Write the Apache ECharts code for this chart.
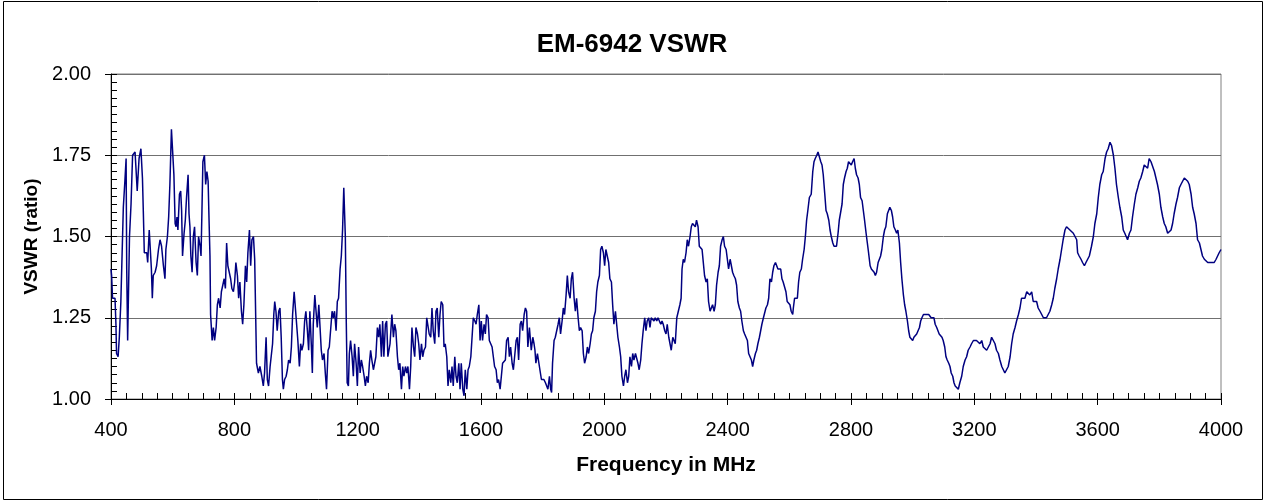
<!DOCTYPE html>
<html>
<head>
<meta charset="utf-8">
<title>EM-6942 VSWR</title>
<script src="https://cdn.jsdelivr.net/npm/echarts@6/dist/echarts.min.js"></script>
<style>
  html, body { margin: 0; padding: 0; background: #fff; }
  #chart { width: 1264px; height: 502px; }
</style>
</head>
<body>
<div id="chart"></div>
<script>
// frequency (MHz) / VSWR readings, split by band so the pairs are easy to check
const freq1 = [400,402,405,413,416,418,423,427,432,435,440,445,449,451,454,460,465,470,478,481,485,491,497,502,505,508,516,519,524,529,531,534,537,543,548,554,559,564,570,575,578,583,587,591,596,601,604,608,611,614,617,622,626,629,632,637,641,645,650,653,656,659,663,667,671,676,680,684,689,692,695,698,703,707,711,715,718,721,723,728,732,736,741,745,749,754,758,762,767,771,775,779,784,788,792,797,801,805,810,814,818,823,827,831,836,840,844,849,853,857,862,866];
const vswr1 = [1.40,1.38,1.31,1.31,1.23,1.14,1.13,1.19,1.30,1.41,1.59,1.67,1.74,1.40,1.18,1.50,1.60,1.75,1.76,1.71,1.64,1.74,1.77,1.68,1.57,1.45,1.45,1.42,1.52,1.52,1.40,1.31,1.38,1.39,1.41,1.46,1.49,1.47,1.41,1.37,1.46,1.50,1.56,1.66,1.83,1.83,1.69,1.54,1.53,1.56,1.52,1.63,1.64,1.58,1.44,1.51,1.55,1.62,1.69,1.57,1.53,1.44,1.39,1.50,1.53,1.42,1.38,1.50,1.47,1.44,1.58,1.73,1.75,1.66,1.70,1.67,1.55,1.44,1.26,1.18,1.22,1.18,1.22,1.29,1.31,1.28,1.33,1.33,1.37,1.34,1.48,1.41,1.41,1.37,1.34,1.33,1.36,1.42,1.38,1.31,1.36,1.27,1.23,1.29,1.41,1.36,1.45,1.52,1.41,1.49,1.50,1.43];

const freq2 = [872,878,883,889,894,898,903,907,911,916,920,924,928,931,935,939,944,948,952,956,959,963,968,972,976,981,985,989,994,998,1002,1006,1011,1015,1019,1024,1028,1032,1037,1041,1045,1050,1053,1056,1061,1065,1069,1074,1078,1082,1086,1091,1095,1099,1104,1108,1112,1117,1121,1125,1130,1134,1138,1143,1147,1151,1155,1158,1160,1163,1166,1170,1173,1177,1182,1186,1190,1195,1199,1203,1208,1212,1216,1221,1225,1229,1234,1238,1242,1246,1251,1255,1259,1264,1268,1272,1277,1281,1285,1290,1294,1298];
const vswr2 = [1.11,1.08,1.10,1.07,1.04,1.08,1.19,1.06,1.04,1.10,1.10,1.17,1.26,1.30,1.27,1.21,1.27,1.28,1.19,1.06,1.03,1.06,1.07,1.09,1.12,1.11,1.16,1.26,1.33,1.33,1.23,1.18,1.10,1.17,1.15,1.17,1.24,1.27,1.21,1.15,1.27,1.16,1.08,1.23,1.32,1.27,1.22,1.29,1.29,1.15,1.12,1.14,1.08,1.03,1.15,1.16,1.16,1.27,1.25,1.27,1.21,1.30,1.31,1.40,1.44,1.52,1.65,1.65,1.50,1.24,1.05,1.04,1.14,1.18,1.13,1.07,1.17,1.11,1.04,1.16,1.08,1.12,1.10,1.07,1.04,1.07,1.05,1.11,1.15,1.12,1.09,1.09,1.13,1.22,1.19,1.23,1.13,1.24,1.13,1.23,1.24,1.13];

const freq3 = [1305,1311,1316,1320,1324,1329,1333,1337,1342,1346,1350,1355,1359,1363,1368,1372,1376,1381,1385,1389,1394,1398,1402,1407,1411,1415,1420,1424,1428,1432,1437,1441,1445,1450,1454,1458,1463,1467,1471,1476,1480,1484,1489,1493,1497,1502,1506,1510,1515,1519,1523,1528,1532,1536,1541,1545,1549,1554,1558,1562,1567,1571,1575,1580,1584,1588,1593,1597,1601,1605,1610,1614,1618,1623,1627,1631,1636,1640,1644,1649,1653,1657,1662,1666,1670,1675,1679,1683,1688,1692,1696,1701,1705,1709,1714,1718,1722,1727,1731,1735,1740,1744,1748,1752,1757];
const vswr3 = [1.17,1.26,1.19,1.23,1.21,1.13,1.09,1.11,1.03,1.10,1.07,1.10,1.08,1.10,1.03,1.10,1.22,1.16,1.13,1.22,1.20,1.17,1.12,1.17,1.13,1.15,1.16,1.25,1.25,1.20,1.19,1.28,1.21,1.17,1.27,1.28,1.19,1.26,1.30,1.29,1.16,1.17,1.13,1.04,1.09,1.05,1.10,1.04,1.13,1.07,1.05,1.11,1.03,1.11,1.03,1.01,1.09,1.03,1.09,1.10,1.13,1.19,1.25,1.24,1.23,1.26,1.29,1.18,1.24,1.18,1.23,1.20,1.26,1.25,1.18,1.18,1.16,1.13,1.10,1.09,1.05,1.06,1.03,1.07,1.11,1.11,1.12,1.18,1.19,1.13,1.16,1.11,1.09,1.13,1.18,1.19,1.12,1.23,1.24,1.21,1.26,1.28,1.27,1.16,1.22];

const freq4 = [1763,1768,1772,1775,1778,1783,1787,1791,1796,1800,1804,1809,1813,1817,1822,1826,1829,1832,1837,1841,1845,1850,1854,1858,1863,1867,1871,1876,1880,1884,1889,1893,1897,1902,1906,1910,1915,1919,1923,1928,1932,1936,1941,1945,1949,1954,1958,1962,1966,1971,1975,1979,1984,1988,1992,1997,2001,2005,2010,2014,2018,2023,2027,2031,2036,2040,2044,2049,2053,2057,2062,2066,2070,2075,2079,2083,2088,2092,2096,2101,2105,2109,2113,2118,2122,2126,2131,2135,2139,2144,2148,2152,2157,2161,2165,2170,2174,2178,2183,2187,2191,2196,2200,2204,2209,2213,2217,2222,2226,2230];
const vswr4 = [1.15,1.19,1.17,1.15,1.11,1.14,1.14,1.09,1.06,1.06,1.06,1.05,1.04,1.03,1.07,1.03,1.02,1.11,1.18,1.19,1.19,1.23,1.25,1.20,1.24,1.28,1.26,1.32,1.38,1.33,1.31,1.37,1.39,1.31,1.27,1.31,1.25,1.21,1.22,1.21,1.14,1.11,1.13,1.16,1.14,1.17,1.20,1.21,1.25,1.27,1.33,1.36,1.38,1.46,1.47,1.45,1.41,1.46,1.46,1.42,1.37,1.36,1.29,1.23,1.27,1.27,1.19,1.16,1.13,1.07,1.04,1.07,1.09,1.05,1.07,1.13,1.10,1.14,1.12,1.14,1.14,1.11,1.09,1.12,1.17,1.21,1.25,1.21,1.24,1.25,1.22,1.25,1.25,1.24,1.25,1.24,1.25,1.25,1.23,1.24,1.23,1.21,1.20,1.23,1.19,1.17,1.15,1.19,1.19,1.17];

const freq5 = [2235,2240,2245,2249,2252,2256,2260,2265,2269,2273,2278,2282,2286,2291,2295,2299,2304,2308,2312,2317,2321,2325,2330,2334,2338,2343,2347,2351,2356,2360,2364,2369,2373,2377,2382,2386,2390,2395,2399,2403,2408,2412,2416,2420,2425,2429,2433,2438,2442,2446,2451,2455,2459,2464,2468,2472,2477,2481,2485,2490,2494,2498,2503,2507,2511,2516,2520,2524,2529,2533,2537,2542,2546,2550,2555,2559,2563,2567,2572,2576,2580,2585,2589,2593,2598,2602,2606,2611,2613,2617,2621,2626,2630,2634,2639,2643,2648,2652,2656,2660,2665];
const vswr5 = [1.25,1.27,1.29,1.31,1.40,1.43,1.42,1.45,1.49,1.47,1.50,1.53,1.54,1.54,1.53,1.55,1.53,1.47,1.47,1.46,1.42,1.38,1.36,1.37,1.30,1.27,1.28,1.29,1.27,1.29,1.35,1.39,1.41,1.47,1.49,1.50,1.47,1.46,1.43,1.40,1.43,1.41,1.39,1.38,1.37,1.35,1.30,1.28,1.27,1.24,1.21,1.20,1.20,1.18,1.14,1.14,1.12,1.10,1.12,1.14,1.15,1.17,1.19,1.21,1.23,1.25,1.25,1.28,1.29,1.31,1.37,1.36,1.39,1.41,1.42,1.42,1.40,1.40,1.40,1.37,1.36,1.36,1.33,1.30,1.30,1.29,1.27,1.26,1.28,1.31,1.31,1.31,1.36,1.39,1.40,1.43,1.46,1.50,1.55,1.58,1.62];

const freq6 = [2671,2676,2680,2684,2689,2693,2697,2702,2706,2710,2715,2719,2723,2728,2732,2736,2741,2745,2749,2753,2758,2762,2766,2771,2775,2779,2784,2788,2792,2797,2801,2805,2810,2814,2818,2823,2827,2831,2836,2840,2844,2849,2853,2857,2862,2866,2870,2875,2879,2883,2888,2892,2896,2900,2905,2909,2913,2918,2922,2926,2931,2935,2939,2944,2948,2952,2957,2961,2965,2970,2974,2978,2983,2987,2991,2996,3000,3004,3009,3013,3017,3022,3026,3030,3035,3039,3043,3047,3052,3056,3060,3065,3069,3073,3078,3082,3086,3091,3095,3099,3104,3108,3112,3117,3121,3125,3130,3134,3138,3143];
const vswr6 = [1.63,1.70,1.73,1.74,1.75,1.76,1.76,1.73,1.72,1.69,1.63,1.58,1.57,1.55,1.52,1.50,1.48,1.47,1.47,1.47,1.51,1.55,1.55,1.60,1.66,1.68,1.70,1.71,1.73,1.73,1.72,1.73,1.74,1.71,1.69,1.68,1.66,1.62,1.61,1.58,1.55,1.51,1.48,1.45,1.41,1.40,1.40,1.39,1.38,1.39,1.42,1.43,1.44,1.46,1.50,1.52,1.53,1.57,1.58,1.59,1.58,1.56,1.53,1.52,1.51,1.52,1.48,1.42,1.37,1.32,1.29,1.27,1.24,1.21,1.19,1.19,1.18,1.19,1.19,1.20,1.20,1.22,1.24,1.25,1.26,1.26,1.26,1.26,1.26,1.26,1.25,1.25,1.25,1.23,1.22,1.21,1.20,1.20,1.19,1.18,1.16,1.13,1.12,1.11,1.10,1.08,1.07,1.05,1.04,1.04];

const freq7 = [3148,3153,3159,3164,3170,3175,3180,3186,3191,3197,3202,3207,3213,3218,3224,3229,3235,3240,3245,3251,3256,3262,3267,3272,3278,3283,3289,3294,3299,3305,3310,3316,3321,3326,3332,3337,3343,3348,3353,3359,3364,3370,3375,3380,3386,3391,3397,3402,3407,3413,3418,3424,3429,3434,3440,3445,3451,3456,3461,3467,3472,3478,3483,3488,3494,3499,3505,3510,3516,3521,3526,3532,3535,3540,3546,3551,3557,3562,3567,3573];
const vswr7 = [1.03,1.05,1.07,1.10,1.12,1.13,1.15,1.16,1.17,1.18,1.18,1.18,1.18,1.17,1.18,1.16,1.16,1.15,1.15,1.17,1.19,1.19,1.17,1.15,1.14,1.12,1.10,1.09,1.08,1.08,1.10,1.13,1.17,1.20,1.22,1.24,1.26,1.28,1.31,1.31,1.31,1.33,1.33,1.32,1.33,1.30,1.30,1.30,1.28,1.27,1.27,1.25,1.25,1.25,1.25,1.27,1.29,1.31,1.34,1.37,1.40,1.43,1.46,1.49,1.52,1.53,1.53,1.52,1.52,1.51,1.51,1.49,1.45,1.44,1.43,1.42,1.41,1.42,1.42,1.44];

const freq8 = [3580,3586,3591,3597,3602,3607,3613,3618,3624,3629,3634,3640,3645,3651,3656,3661,3667,3672,3678,3683,3688,3694,3697,3703,3708,3713,3719,3724,3730,3735,3740,3746,3751,3757,3762,3767,3773,3778,3784,3789,3794,3800,3805,3811,3816,3821,3827,3832,3838,3843,3848,3854,3859,3865,3870,3876,3881,3886,3892,3897,3903,3908,3913,3919,3924,3930,3935,3940,3946,3951,3957,3962,3967,3973,3978,3984,3989,3994,4000];
const vswr8 = [1.47,1.50,1.54,1.57,1.62,1.66,1.69,1.70,1.74,1.76,1.77,1.79,1.78,1.75,1.71,1.66,1.62,1.59,1.56,1.52,1.51,1.51,1.49,1.51,1.52,1.56,1.60,1.63,1.65,1.67,1.68,1.70,1.72,1.72,1.71,1.74,1.73,1.73,1.70,1.68,1.66,1.63,1.59,1.56,1.54,1.53,1.51,1.51,1.52,1.54,1.57,1.60,1.62,1.65,1.66,1.66,1.68,1.68,1.67,1.66,1.63,1.59,1.57,1.54,1.49,1.48,1.46,1.44,1.43,1.43,1.42,1.42,1.42,1.42,1.42,1.43,1.44,1.45,1.46];

const freq = [].concat(freq1, freq2, freq3, freq4, freq5, freq6, freq7, freq8);
const vswr = [].concat(vswr1, vswr2, vswr3, vswr4, vswr5, vswr6, vswr7, vswr8);

const chart = echarts.init(document.getElementById('chart'), null, { renderer: 'canvas' });
const font = '"Liberation Sans", Arial, sans-serif';
const black = '#000';

const option = {
  animation: false,
  backgroundColor: '#fff',
  textStyle: { fontFamily: font, color: black },
  title: {
    text: 'EM-6942 VSWR',
    left: 'center',
    top: 27,
    textStyle: { fontFamily: font, fontSize: 26, fontWeight: 'bold', color: black }
  },
  // outer chart frame
  graphic: [{
    type: 'rect',
    silent: true,
    shape: { x: 3.5, y: 1.5, width: 1259, height: 498 },
    style: { fill: 'none', stroke: black, lineWidth: 1 }
  }],
  grid: {
    left: 111, right: 43, top: 74, bottom: 103,
    show: true, borderColor: '#808080', borderWidth: 1,
    outerBoundsMode: 'none'
  },
  xAxis: [
    {
      type: 'value', min: 400, max: 4000, interval: 400, position: 'bottom',
      name: 'Frequency in MHz', nameLocation: 'middle', nameGap: 56,
      nameTextStyle: { fontFamily: font, fontSize: 21, fontWeight: 'bold', color: black },
      axisLine: { show: true, onZero: false, lineStyle: { color: black, width: 1 } },
      axisTick: { show: true, inside: false, length: 6, lineStyle: { color: black } },
      axisLabel: { margin: 21, fontSize: 20, fontFamily: font, color: black,
        formatter: v => String(v) },
      splitLine: { show: false }
    },
    {
      // minor ticks point into the plot
      type: 'value', min: 400, max: 4000, interval: 400, position: 'bottom',
      axisLine: { show: false, onZero: false },
      axisTick: { show: true, inside: true, length: 6, lineStyle: { color: black } },
      minorTick: { show: true, splitNumber: 8, length: 6, lineStyle: { color: black } },
      axisLabel: { show: false },
      splitLine: { show: false }
    }
  ],
  yAxis: [
    {
      type: 'value', min: 1, max: 2, interval: 0.25, position: 'left',
      name: 'VSWR (ratio)', nameLocation: 'middle', nameGap: 68, nameRotate: 90,
      nameTextStyle: { fontFamily: font, fontSize: 19, fontWeight: 'bold', color: black },
      axisLine: { show: true, onZero: false, lineStyle: { color: black, width: 1 } },
      axisTick: { show: true, inside: false, length: 6, lineStyle: { color: black } },
      axisLabel: { margin: 20, fontSize: 20, fontFamily: font, color: black,
        formatter: v => v.toFixed(2) },
      splitLine: { show: true, lineStyle: { color: '#707070', width: 1 } }
    },
    {
      type: 'value', min: 1, max: 2, interval: 0.25, position: 'left',
      axisLine: { show: false, onZero: false },
      axisTick: { show: true, inside: true, length: 6, lineStyle: { color: black } },
      minorTick: { show: true, splitNumber: 10, length: 6, lineStyle: { color: black } },
      axisLabel: { show: false },
      splitLine: { show: false }
    }
  ],
  series: [{
    name: 'VSWR',
    type: 'line',
    xAxisIndex: 0,
    yAxisIndex: 0,
    data: freq.map((f, i) => [f, vswr[i]]),
    showSymbol: false,
    symbol: 'none',
    lineStyle: { color: '#000080', width: 1.5 },
    z: 3
  }]
};

chart.setOption(option);
</script>
</body>
</html>
